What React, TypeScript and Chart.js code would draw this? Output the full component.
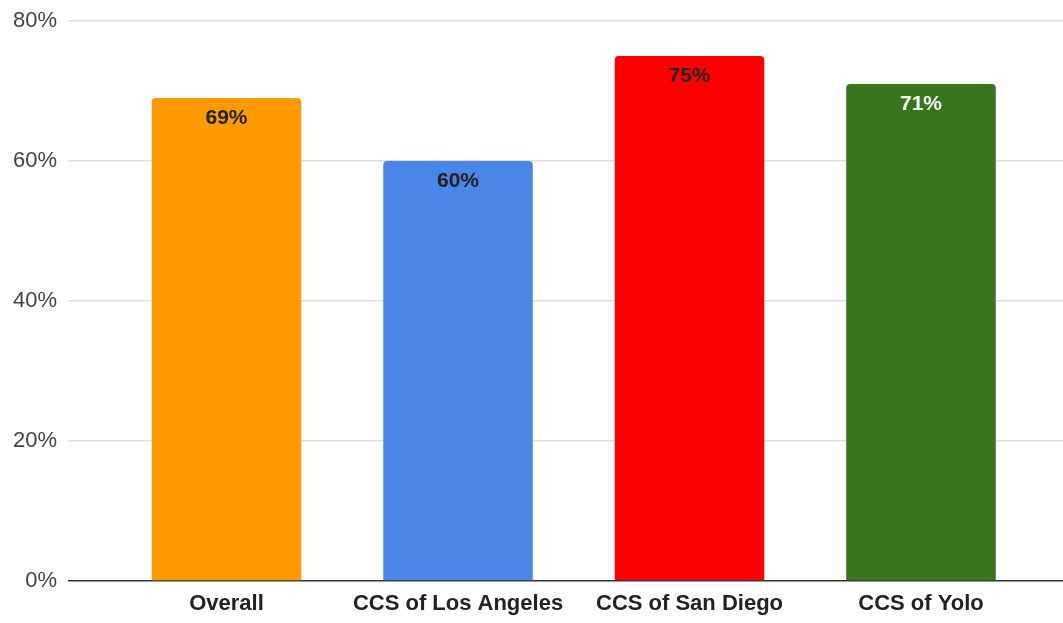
import React, { useEffect, useRef } from "react";
import { Chart, registerables } from "chart.js";

Chart.register(...registerables);

const categories = ["Overall", "CCS of Los Angeles", "CCS of San Diego", "CCS of Yolo"];
const values = [69, 60, 75, 71];
const barColors = ["#ff9900", "#4a86e8", "#ff0000", "#38761d"];
const labelColors = ["#222222", "#222222", "#222222", "#ffffff"];
const yTicks = [0, 20, 40, 60, 80];

const FONT = "'Liberation Sans', Arial, sans-serif";

const valueLabels = {
  id: "valueLabels",
  afterDatasetsDraw(chart: any) {
    const ctx = chart.ctx;
    const meta = chart.getDatasetMeta(0);
    ctx.save();
    ctx.font = `bold 21px ${FONT}`;
    ctx.textAlign = "center";
    ctx.textBaseline = "middle";
    meta.data.forEach((el: any, i: number) => {
      ctx.fillStyle = labelColors[i];
      ctx.fillText(values[i] + "%", el.x, el.y + 20);
    });
    ctx.restore();
  },
};

export default function App() {
  const ref = useRef<HTMLCanvasElement | null>(null);
  useEffect(() => {
    if (!ref.current) return;
    const chart = new Chart(ref.current, {
      type: "bar",
      data: {
        datasets: [
          {
            data: values.map((v, i) => ({ x: i, y: v })),
            backgroundColor: barColors,
            borderRadius: 4,
            barPercentage: 0.646,
            categoryPercentage: 1,
          },
        ],
      },
      options: {
        animation: false,
        responsive: true,
        maintainAspectRatio: false,
        layout: { padding: { top: 13, right: 0, bottom: 0, left: 0 } },
        plugins: { legend: { display: false }, tooltip: { enabled: false } },
        scales: {
          x: {
            type: "linear",
            offset: false,
            min: -0.6847,
            max: 3.6134,
            grid: { display: false, offset: false },
            border: { display: false },
            afterBuildTicks: (scale: any) => {
              scale.ticks = categories.map((_, i) => ({ value: i }));
            },
            afterFit: (scale: any) => {
              scale.height = 42;
              scale.paddingLeft = 0;
              scale.paddingRight = 0;
            },
            ticks: {
              autoSkip: false,
              maxRotation: 0,
              padding: 2,
              color: "#222222",
              font: { family: FONT, size: 22, weight: "bold" },
              callback: (v: any) => categories[v as number] ?? "",
            },
          },
          y: {
            min: 0,
            max: 80,
            afterBuildTicks: (scale: any) => {
              scale.ticks = yTicks.map((v) => ({ value: v }));
            },
            afterFit: (scale: any) => {
              scale.width = 60;
              scale.paddingTop = 0;
              scale.paddingBottom = 0;
            },
            grid: {
              drawTicks: false,
              color: (c: any) => (c.tick && c.tick.value === 0 ? "#333333" : "#dddddd"),
              lineWidth: 1.5,
            },
            border: { display: false },
            ticks: {
              padding: 11,
              color: "#444444",
              font: { family: FONT, size: 22 },
              callback: (v: any) => v + "%",
            },
          },
        },
      },
      plugins: [valueLabels],
    });
    return () => chart.destroy();
  }, []);
  return (
    <div style={{ position: "absolute", left: 8, top: 8, width: 1055, height: 615 }}>
      <canvas ref={ref} />
    </div>
  );
}
